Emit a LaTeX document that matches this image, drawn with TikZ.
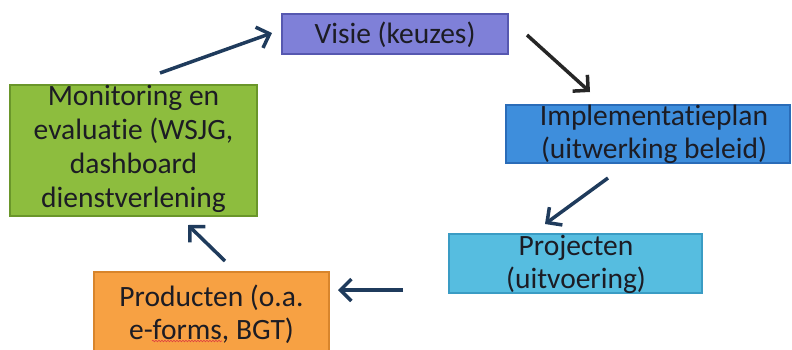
\documentclass[tikz,border=0pt]{standalone}
\usepackage{fontspec}
\setmainfont{Carlito}[Ligatures=NoCommon]
\usetikzlibrary{arrows.meta,decorations.pathmorphing}

\definecolor{ink}{HTML}{1C1C24}
\definecolor{navy}{HTML}{1F3B5C}
\definecolor{charcoal}{HTML}{262626}
\definecolor{visiefill}{HTML}{7F80D8}
\definecolor{visieline}{HTML}{5658B0}
\definecolor{monfill}{HTML}{8DBD3E}
\definecolor{monline}{HTML}{6A962A}
\definecolor{implfill}{HTML}{3E8EDC}
\definecolor{implline}{HTML}{2A6CB8}
\definecolor{projfill}{HTML}{56BDE0}
\definecolor{projline}{HTML}{3A9CC4}
\definecolor{prodfill}{HTML}{F7A143}
\definecolor{prodline}{HTML}{D8852C}
\definecolor{spellred}{HTML}{E04040}

\begin{document}
\begin{tikzpicture}[x=1pt,y=-1pt,
  stagebox/.style={rectangle, line width=1.3pt, inner sep=0pt},
  stagetext/.style={align=center, inner sep=0pt, text=ink,
    font=\fontsize{29.5}{33}\selectfont},
  flow/.style={line width=3.5pt, draw=navy,
    -{Straight Barb[length=11pt,width=22pt]}}]

\clip (0,0) rectangle (792,349);

% stage boxes
\node[stagebox, fill=visiefill, draw=visieline,
  minimum width=226pt, minimum height=40pt] (visie) at (395,34) {};
\node[stagebox, fill=monfill, draw=monline,
  minimum width=247pt, minimum height=131pt] (mon) at (133.5,150.5) {};
\node[stagebox, fill=implfill, draw=implline,
  minimum width=284pt, minimum height=58pt] (impl) at (648,134) {};
\node[stagebox, fill=projfill, draw=projline,
  minimum width=253pt, minimum height=59pt] (proj) at (575.5,263.5) {};
\node[stagebox, fill=prodfill, draw=prodline,
  minimum width=235pt, minimum height=100pt] (prod) at (211.5,322) {};

% stage texts
\node[stagetext] (visie-t) at (395,34.5) {Visie (keuzes)};
\node[stagetext, font=\fontsize{29.5}{34}\selectfont] (mon-t) at (133.5,149)
  {Monitoring en\\evaluatie (WSJG,\\dashboard\\dienstverlening};
\node[stagetext] (impl-t) at (654,134)
  {Implementatieplan\\(uitwerking beleid)};
\node[stagetext] (proj-t) at (576,264) {Projecten\\(uitvoering)};
\node[stagetext] (prod-t) at (211.5,314) {Producten (o.a.\\e-forms, BGT)};

% spell-check mark under "forms"
\coordinate (sp-a) at (152,341);
\coordinate (sp-b) at (222,341);
\draw[spellred, line width=0.6pt, decorate,
  decoration={snake, amplitude=0.8pt, segment length=3pt}] (sp-a) -- (sp-b);

% cycle arrows
\coordinate (a1s) at (160,73);  \coordinate (a1e) at (272,33);
\coordinate (a2s) at (527,35);  \coordinate (a2e) at (590,92);
\coordinate (a3s) at (608,178); \coordinate (a3e) at (545,224);
\coordinate (a4s) at (403,290); \coordinate (a4e) at (338,290);
\coordinate (a5s) at (225,261); \coordinate (a5e) at (188,225);

\draw[flow] (a1s) -- (a1e);
\draw[flow, draw=charcoal] (a2s) -- (a2e);
\draw[flow] (a3s) -- (a3e);
\draw[flow] (a4s) -- (a4e);
\draw[flow] (a5s) -- (a5e);
\end{tikzpicture}
\end{document}
